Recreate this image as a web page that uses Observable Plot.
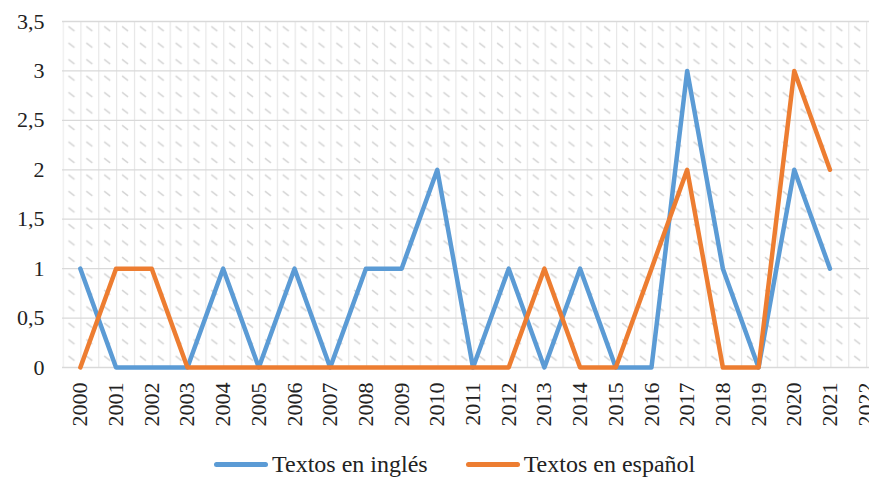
<!DOCTYPE html>
<html>
<head>
<meta charset="utf-8">
<script src="https://cdn.jsdelivr.net/npm/d3@7"></script>
<script src="https://cdn.jsdelivr.net/npm/@observablehq/plot@0.6"></script>
<style>
  body { margin: 0; background: #fff; font-family: "Liberation Serif", "Times New Roman", serif; }
  #wrap { position: relative; width: 869px; height: 477px; overflow: hidden; }
  #legend { position: absolute; left: 214px; top: 451px; display: flex; align-items: center; font-size: 24px; color: #222; white-space: nowrap; }
  .item { display: flex; align-items: center; }
  .sw { width: 54px; height: 5px; border-radius: 3px; margin-right: 4px; }
  svg text { font-family: "Liberation Serif", "Times New Roman", serif; }
</style>
</head>
<body>
<div id="wrap"><div id="chart"></div><div id="legend"></div></div>
<script>
const years = [2000,2001,2002,2003,2004,2005,2006,2007,2008,2009,2010,2011,2012,2013,2014,2015,2016,2017,2018,2019,2020,2021];
const tickYears = [2000,2001,2002,2003,2004,2005,2006,2007,2008,2009,2010,2011,2012,2013,2014,2015,2016,2017,2018,2019,2020,2021,2022];
const ingles  = [1,0,0,0,1,0,1,0,1,1,2,0,1,0,1,0,0,3,1,0,2,1];
const espanol = [0,1,1,0,0,0,0,0,0,0,0,0,0,1,0,0,1,2,0,0,3,2];
const yTicks = [0,0.5,1,1.5,2,2.5,3,3.5];
const seriesNames = ["Textos en inglés", "Textos en español"];
const seriesColors = ["#5B9BD5", "#ED7D31"];

const rowsIngles = years.map((y, i) => ({year: y, value: ingles[i]}));
const rowsEspanol = years.map((y, i) => ({year: y, value: espanol[i]}));
const fmt = d => String(d).replace(".", ",");

const chart = Plot.plot({
  width: 869,
  height: 445,
  marginLeft: 62,
  marginTop: 21,
  marginRight: 0,
  marginBottom: 78,
  style: { fontSize: "22px", color: "#222", background: "transparent" },
  x: { type: "linear", domain: [1999.5, 2022.5], range: [62, 883] },
  y: { domain: [0, 3.5], range: [367, 21] },
  marks: [
    Plot.frame({ fill: "url(#hatch)", stroke: null }),
    Plot.gridY(yTicks, { stroke: "#d9d9d9", strokeOpacity: 1, strokeWidth: 1.3 }),
    Plot.axisY(yTicks, { tickSize: 0, tickPadding: 18, tickFormat: fmt, label: null, fill: "#222" }),
    Plot.axisX(tickYears, { tickSize: 0, tickPadding: 15, tickRotate: -90, tickFormat: d => String(d), label: null, fill: "#222" }),
    Plot.line(rowsIngles, { x: "year", y: "value", stroke: seriesColors[0], strokeWidth: 4.5, strokeLinejoin: "round", strokeLinecap: "round" }),
    Plot.line(rowsEspanol, { x: "year", y: "value", stroke: seriesColors[1], strokeWidth: 4.5, strokeLinejoin: "round", strokeLinecap: "round" })
  ]
});

d3.select(chart).insert("defs", ":first-child").html(`
  <pattern id="hatch" patternUnits="userSpaceOnUse" x="62" y="21" width="17.857" height="16.476">
    <rect width="17.857" height="16.476" fill="#ffffff"/>
    <line x1="0.5" y1="0" x2="0.5" y2="16.476" stroke="#e6e6e6" stroke-width="1.3"/>
    <line x1="6" y1="5" x2="12" y2="9.5" stroke="#d4d4d4" stroke-width="1.4"/>
  </pattern>`);

document.getElementById("chart").appendChild(chart);

const legend = d3.select("#legend");
seriesNames.forEach((name, i) => {
  const it = legend.append("div").attr("class", "item").style("margin-right", i === 0 ? "38px" : "0");
  it.append("div").attr("class", "sw").style("background", seriesColors[i]);
  it.append("span").text(name);
});
</script>
</body>
</html>
